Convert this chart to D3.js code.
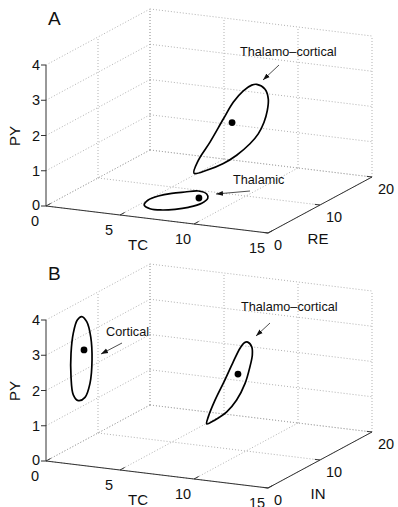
<!DOCTYPE html>
<html>
<head>
<meta charset="UTF-8">
<script src="https://d3js.org/d3.v7.min.js"></script>
<style>
  body { margin: 0; background: #fff; }
  svg { display: block; font-family: "Liberation Sans", Arial, sans-serif; }
  .grid { stroke: #a8a8a8; stroke-width: 0.9; stroke-dasharray: 1, 2; fill: none; }
  .axis { stroke: #333; stroke-width: 1; }
  .loop { fill: none; stroke: #000; stroke-width: 1.7; }
  .lab { fill: #111; }
</style>
</head>
<body>
<svg width="398" height="507"></svg>
<script>
// tick values
const tcTicks = [0, 5, 10, 15];
const reTicks = [0, 10, 20];
const pyTicks = [0, 1, 2, 3, 4];

// limit cycles, points as [TC, RE/IN, PY]
const thalamoCorticalA = [
  [11.43, 8, 3.40], [11.99, 8, 3.29], [12.21, 8, 3.02], [12.14, 8, 2.69], [11.92, 8, 2.35],
  [11.53, 8, 2.00], [10.97, 8, 1.69], [10.07, 8, 1.32], [9.17, 8, 1.04], [8.05, 8, 0.79],
  [7.19, 8, 0.66], [7.48, 8, 1.04], [8.27, 8, 1.60], [9.17, 8, 2.30], [9.84, 8, 2.81],
  [10.52, 8, 3.17], [11.09, 8, 3.36]
];
const thalamicA = [
  [5.31, 3.77, 0], [5.02, 5.37, 0], [5.17, 6.89, 0], [5.63, 8.16, 0], [6.23, 9.00, 0],
  [6.86, 9.77, 0], [7.63, 9.19, 0], [8.13, 7.97, 0], [8.31, 6.30, 0], [7.98, 4.66, 0],
  [7.45, 3.61, 0], [6.79, 2.94, 0], [6.01, 2.90, 0]
];
const corticalB = [
  [0, 6.87, 3.55], [0, 7.83, 3.33], [0, 8.60, 2.84], [0, 8.85, 2.16], [0, 8.46, 1.53],
  [0, 7.50, 1.21], [0, 6.21, 1.22], [0, 5.25, 1.46], [0, 4.81, 2.01], [0, 4.81, 2.67],
  [0, 5.25, 3.21], [0, 6.02, 3.52]
];
const thalamoCorticalB = [
  [10.82, 8, 3.29], [11.09, 8, 3.17], [11.13, 8, 2.94], [10.97, 8, 2.60], [10.64, 8, 2.11],
  [10.07, 8, 1.61], [9.40, 8, 1.24], [8.61, 8, 0.97], [8.05, 8, 0.83], [8.16, 8, 1.04],
  [8.61, 8, 1.53], [9.28, 8, 2.14], [9.84, 8, 2.68], [10.30, 8, 3.09], [10.59, 8, 3.26]
];
// fixed points inside the cycles
const fixedA = [[9.76, 8, 2.23], [7.61, 7.75, 0]];
const fixedB = [[0, 7.31, 2.57], [10.16, 8, 2.35]];

const svg = d3.select("svg");

// oblique projection of the 3d box
const tcX = d3.scaleLinear().domain([0, 15]).range([0, 222]);
const tcY = d3.scaleLinear().domain([0, 15]).range([0, 27]);
const reX = d3.scaleLinear().domain([0, 20]).range([0, 104]);
const reY = d3.scaleLinear().domain([0, 20]).range([0, -56]);
const pyY = d3.scaleLinear().domain([0, 4]).range([0, -141]);
const P = p => [tcX(p[0]) + reX(p[1]), tcY(p[0]) + reY(p[1]) + pyY(p[2])];

svg.append("defs").append("marker")
  .attr("id", "arr").attr("viewBox", "0 0 10 10").attr("refX", 10).attr("refY", 5)
  .attr("markerWidth", 7).attr("markerHeight", 7).attr("orient", "auto")
  .attr("markerUnits", "userSpaceOnUse")
  .append("path").attr("d", "M0,1.5L10,5L0,8.5z").attr("fill", "#111");

const panels = [
  { name: "A", oy: 206, third: "RE", loops: [thalamoCorticalA, thalamicA], dots: fixedA,
    notes: [
      { t: "Thalamo\u2013cortical", x: 194, y: -150, a: [233, -141, 217, -126] },
      { t: "Thalamic", x: 187, y: -22, a: [204, -15, 170, -12] }
    ] },
  { name: "B", oy: 461, third: "IN", loops: [corticalB, thalamoCorticalB], dots: fixedB,
    notes: [
      { t: "Cortical", x: 60, y: -125, a: [76, -118, 55, -107] },
      { t: "Thalamo\u2013cortical", x: 195, y: -150, a: [224, -138, 210, -125] }
    ] }
];

const seg = (g, a, b, cls) => {
  const p = P(a), q = P(b);
  g.append("line").attr("class", cls)
    .attr("x1", p[0]).attr("y1", p[1]).attr("x2", q[0]).attr("y2", q[1]);
};

const lineGen = d3.line().x(d => P(d)[0]).y(d => P(d)[1]).curve(d3.curveCatmullRomClosed.alpha(0.5));

panels.forEach(pn => {
  const g = svg.append("g").attr("transform", `translate(46,${pn.oy})`);
  const tcMax = 15, reMax = 20, pyMax = 4;

  // grid: back wall, left wall, floor
  tcTicks.forEach(t => seg(g, [t, reMax, 0], [t, reMax, pyMax], "grid"));
  pyTicks.forEach(z => seg(g, [0, reMax, z], [tcMax, reMax, z], "grid"));
  reTicks.filter(r => r > 0).forEach(r => seg(g, [0, r, 0], [0, r, pyMax], "grid"));
  pyTicks.forEach(z => seg(g, [0, 0, z], [0, reMax, z], "grid"));
  tcTicks.forEach(t => seg(g, [t, 0, 0], [t, reMax, 0], "grid"));
  reTicks.forEach(r => seg(g, [0, r, 0], [tcMax, r, 0], "grid"));

  // axes
  seg(g, [0, 0, 0], [0, 0, pyMax], "axis");
  seg(g, [0, 0, 0], [tcMax, 0, 0], "axis");
  seg(g, [tcMax, 0, 0], [tcMax, reMax, 0], "axis");

  // PY ticks
  pyTicks.forEach(z => {
    const p = P([0, 0, z]);
    g.append("line").attr("class", "axis").attr("x1", p[0] - 5).attr("x2", p[0]).attr("y1", p[1]).attr("y2", p[1]);
    g.append("text").attr("class", "lab").attr("x", p[0] - 6).attr("y", p[1] - (z === 0 ? 1 : 0)).attr("dy", "0.36em")
      .attr("text-anchor", "end").attr("font-size", 14.5).text(z);
  });
  // TC ticks
  tcTicks.forEach(t => {
    seg(g, [t, 0, 0], [t, 0.9, 0], "axis");
    const p = P([t, 0, 0]);
    g.append("text").attr("class", "lab").attr("x", p[0] - 11).attr("y", p[1] + 14.5).attr("dy", "0.36em")
      .attr("text-anchor", "middle").attr("font-size", 14.5).text(t);
  });
  // RE / IN ticks
  reTicks.forEach(r => {
    seg(g, [tcMax, r, 0], [tcMax - 0.35, r, 0], "axis");
    const p = P([tcMax, r, 0]);
    g.append("text").attr("class", "lab").attr("x", p[0] + 6).attr("y", p[1] + 12).attr("dy", "0.36em")
      .attr("text-anchor", "start").attr("font-size", 14.5).text(r);
  });

  // axis labels
  g.append("text").attr("class", "lab").attr("transform", "translate(-31,-70) rotate(-90)")
    .attr("text-anchor", "middle").attr("dy", "0.36em").attr("font-size", 15).text("PY");
  g.append("text").attr("class", "lab").attr("x", 92).attr("y", 39).attr("dy", "0.36em")
    .attr("text-anchor", "middle").attr("font-size", 15).text("TC");
  g.append("text").attr("class", "lab").attr("x", 272).attr("y", 33).attr("dy", "0.36em")
    .attr("text-anchor", "middle").attr("font-size", 15).text(pn.third);

  // panel letter
  g.append("text").attr("class", "lab").attr("x", 2).attr("y", -181)
    .attr("font-size", 19).text(pn.name);

  // cycles and fixed points
  pn.loops.forEach(l => g.append("path").attr("class", "loop").attr("d", lineGen(l)));
  g.selectAll("circle.fp").data(pn.dots).enter().append("circle").attr("class", "fp")
    .attr("cx", d => P(d)[0]).attr("cy", d => P(d)[1]).attr("r", 3.4).attr("fill", "#000");

  // annotations
  pn.notes.forEach(n => {
    g.append("text").attr("class", "lab").attr("x", n.x).attr("y", n.y)
      .attr("font-size", 12.7).text(n.t);
    g.append("line").attr("x1", n.a[0]).attr("y1", n.a[1]).attr("x2", n.a[2]).attr("y2", n.a[3])
      .attr("stroke", "#222").attr("stroke-width", 0.8).attr("marker-end", "url(#arr)");
  });
});
</script>
</body>
</html>
